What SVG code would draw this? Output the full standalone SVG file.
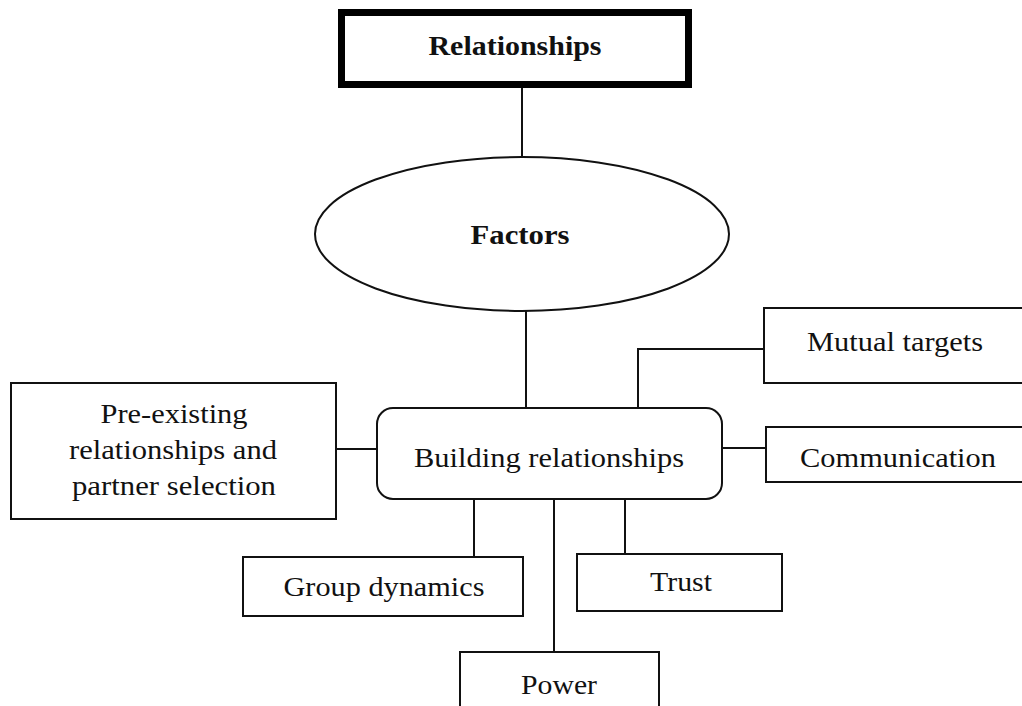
<svg xmlns="http://www.w3.org/2000/svg" width="1022" height="706" viewBox="0 0 1022 706">
  <style>
    .box { fill: #fff; stroke: #111; stroke-width: 2; }
    .link { fill: none; stroke: #111; stroke-width: 2; }
    text { font-family: "Liberation Serif", "Times New Roman", serif; fill: #111; text-anchor: middle; dominant-baseline: central; }
    .lbl { font-size: 28px; }
    .bold { font-size: 28px; font-weight: bold; }
  </style>
  <rect width="1022" height="706" fill="#fff"/>

  <g id="connectors">
    <line class="link" x1="522" y1="88" x2="522" y2="158"/>
    <line class="link" x1="526" y1="310" x2="526" y2="408"/>
    <polyline class="link" points="638,408 638,349 764,349"/>
    <line class="link" x1="722" y1="448" x2="766" y2="448"/>
    <line class="link" x1="336" y1="449" x2="377" y2="449"/>
    <line class="link" x1="474" y1="499" x2="474" y2="557"/>
    <line class="link" x1="554" y1="499" x2="554" y2="652"/>
    <line class="link" x1="625" y1="499" x2="625" y2="554"/>
  </g>

  <g id="relationships">
    <rect x="341.5" y="12.5" width="347" height="72" fill="#fff" stroke="#000" stroke-width="7"/>
    <text class="bold" x="515" y="45" textLength="173" lengthAdjust="spacingAndGlyphs">Relationships</text>
  </g>

  <g id="factors">
    <ellipse class="box" cx="522" cy="234" rx="207" ry="77" stroke-width="1.5"/>
    <text class="bold" x="520" y="234" textLength="99" lengthAdjust="spacingAndGlyphs">Factors</text>
  </g>

  <g id="building">
    <rect class="box" x="377" y="408" width="345" height="91" rx="16" ry="16"/>
    <text class="lbl" x="549" y="457" textLength="270" lengthAdjust="spacingAndGlyphs">Building relationships</text>
  </g>

  <g id="mutual-targets">
    <rect class="box" x="764" y="308" width="270" height="75"/>
    <text class="lbl" x="895" y="341" textLength="176" lengthAdjust="spacingAndGlyphs">Mutual targets</text>
  </g>

  <g id="communication">
    <rect class="box" x="766" y="427" width="270" height="55"/>
    <text class="lbl" x="898" y="457" textLength="196" lengthAdjust="spacingAndGlyphs">Communication</text>
  </g>

  <g id="pre-existing">
    <rect class="box" x="11" y="383" width="325" height="136"/>
    <text class="lbl" x="174" y="413" textLength="147" lengthAdjust="spacingAndGlyphs">Pre-existing</text>
    <text class="lbl" x="173" y="449" textLength="208" lengthAdjust="spacingAndGlyphs">relationships and</text>
    <text class="lbl" x="174" y="485" textLength="204" lengthAdjust="spacingAndGlyphs">partner selection</text>
  </g>

  <g id="group-dynamics">
    <rect class="box" x="243" y="557" width="280" height="59"/>
    <text class="lbl" x="384" y="586" textLength="201" lengthAdjust="spacingAndGlyphs">Group dynamics</text>
  </g>

  <g id="trust">
    <rect class="box" x="577" y="554" width="205" height="57"/>
    <text class="lbl" x="681" y="581" textLength="62" lengthAdjust="spacingAndGlyphs">Trust</text>
  </g>

  <g id="power">
    <rect class="box" x="460" y="652" width="199" height="70"/>
    <text class="lbl" x="559" y="684" textLength="76" lengthAdjust="spacingAndGlyphs">Power</text>
  </g>
</svg>
